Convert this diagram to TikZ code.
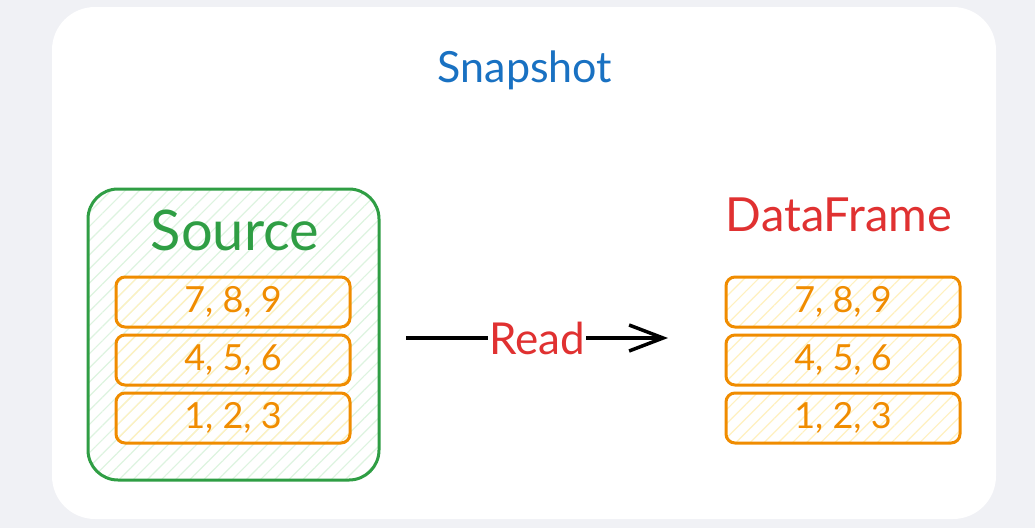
\documentclass[tikz,border=0pt]{standalone}
\usepackage{fontspec}
\setmainfont{Lato}
\usepackage{tikz}
\usetikzlibrary{arrows.meta,patterns.meta,positioning}
\definecolor{pagegray}{HTML}{F0F1F5}
\definecolor{snapblue}{HTML}{1971C2}
\definecolor{srcgreen}{HTML}{2F9E44}
\definecolor{greenhatch}{HTML}{DDF4E0}
\definecolor{framered}{HTML}{E03131}
\definecolor{roworange}{HTML}{F08C00}
\definecolor{rowhatch}{HTML}{FFF1BF}

\begin{document}
\begin{tikzpicture}[x=1pt,y=-1pt,
  row/.style={draw=roworange,line width=3pt,rounded corners=9pt,
    minimum width=234pt,minimum height=50pt,inner sep=0pt,
    pattern={Lines[angle=45,distance=10pt,line width=1.2pt]},pattern color=rowhatch,
    text=roworange,font=\fontsize{36}{36}\selectfont},
  title/.style={inner sep=0pt,font=\fontsize{43}{43}\selectfont}]
\fill[pagegray] (0,0) rectangle (1035,528);
\fill[white,rounded corners=43pt] (52,7) rectangle (996,519);
\node[draw=srcgreen,line width=3pt,rounded corners=30pt,minimum width=291pt,minimum height=291pt,
  pattern={Lines[angle=45,distance=10pt,line width=1.2pt]},pattern color=greenhatch] (Box) at (233.5,334.5) {};
\node[title,text=snapblue] (T) at (525,70) {Snapshot};
\node[title,text=srcgreen,font=\fontsize{56}{56}\selectfont] (S) at (235,230) {Source};
\node[title,text=framered,font=\fontsize{47}{47}\selectfont] (D) at (839,215) {DataFrame};
\node[row] (S3) at (233,302) {7, 8, 9};
\node[row] (S2) at (233,360) {4, 5, 6};
\node[row] (S1) at (233,418) {1, 2, 3};
\node[row] (D3) at (843,302) {7, 8, 9};
\node[row] (D2) at (843,360) {4, 5, 6};
\node[row] (D1) at (843,418) {1, 2, 3};
\coordinate (A) at (406,338);
\coordinate (B) at (668,338);
\path[-{Straight Barb[length=34pt,width=26pt,line width=3.5pt]},line width=3.5pt]
(A) edge node[fill=white,inner sep=1pt,text=framered,font=\fontsize{44}{44}\selectfont]{Read} (B);
\end{tikzpicture}
\end{document}
